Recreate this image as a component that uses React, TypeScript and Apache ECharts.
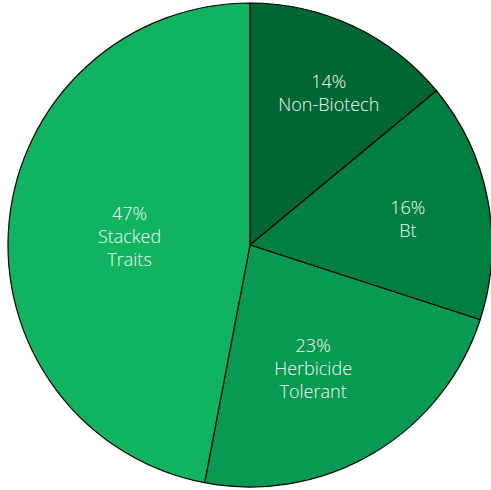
import React, { useEffect, useRef } from "react";
import * as echarts from "echarts";

const categories = ["Non-Biotech", "Bt", "Herbicide\nTolerant", "Stacked\nTraits"];
const values = [14, 16, 23, 47];
const colors = ["#006633", "#007f40", "#089a50", "#10b360"];
const labelShift = [
  [26, -40],
  [36, -3],
  [0, 16],
  [3, 3],
];

export default function App() {
  const ref = useRef<HTMLDivElement>(null);
  useEffect(() => {
    const chart = echarts.init(ref.current!, null, { renderer: "svg" });
    chart.setOption({
      animation: false,
      series: [
        {
          type: "pie",
          center: [250, 245],
          radius: [0, 242],
          startAngle: 90,
          clockwise: true,
          silent: true,
          data: categories.map((c, i) => ({
            name: c,
            value: values[i],
            itemStyle: { color: colors[i] },
          })),
          itemStyle: { borderColor: "#000", borderWidth: 1.2 },
          label: {
            show: true,
            position: "inside",
            formatter: (p: any) => `${p.value}%\n${p.name}`,
            color: "#f4fbf6",
            fontFamily: "'Open Sans', sans-serif",
            fontWeight: 300,
            fontSize: 18,
            lineHeight: 23,
            align: "center",
          },
          labelLine: { show: false },
          labelLayout: (params: any) => ({
            dx: labelShift[params.dataIndex][0],
            dy: labelShift[params.dataIndex][1],
          }),
        },
      ],
    });
    return () => chart.dispose();
  }, []);
  return (
    <div
      ref={ref}
      style={{ position: "fixed", left: 0, top: 0, width: 491, height: 490, background: "#fff" }}
    />
  );
}
